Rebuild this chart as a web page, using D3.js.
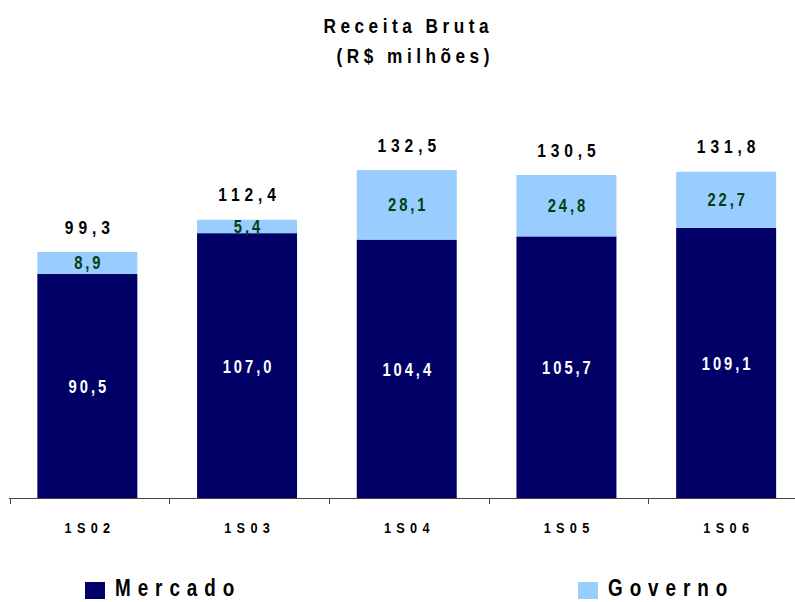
<!DOCTYPE html>
<html>
<head>
<meta charset="utf-8">
<script src="https://cdn.jsdelivr.net/npm/d3@7"></script>
<style>
body { margin: 0; background: #fff; }
text { font-family: "Liberation Sans", Arial, sans-serif; font-weight: bold; }
</style>
</head>
<body>
<div class="chart"></div>
<script>
var width = 795
var height = 602
var squeeze = 0.82 // condensed look

var periods = ['1S02', '1S03', '1S04', '1S05', '1S06']
var mercado = [90.5, 107.0, 104.4, 105.7, 109.1]
var governo = [8.9, 5.4, 28.1, 24.8, 22.7]
var totals = [99.3, 112.4, 132.5, 130.5, 131.8]

var fmt = function (v) { return v.toFixed(1).replace('.', ',') }

var svg = d3.select('.chart').append('svg')
    .attr('width', width)
    .attr('height', height)

var x = d3.scaleBand().domain(periods).range([7.5, 806]).paddingInner(0.374).paddingOuter(0.187)
var xTicks = d3.scaleBand().domain(periods).range([9.5, 808])
var y = d3.scaleLinear().domain([0, 200]).range([498, 3])

// condensed text helper
function label(sel, cx, cy, txt, size, ls, anchor, fill) {
    var shift = anchor === 'middle' ? ls * squeeze / 2 : 0
    sel.append('text')
        .attr('transform', 'translate(' + (cx + shift) + ',' + cy + ') scale(' + squeeze + ',1)')
        .attr('text-anchor', anchor)
        .attr('fill', fill || '#000')
        .style('font-size', size + 'px')
        .style('letter-spacing', ls + 'px')
        .text(txt)
}

// title
label(svg, 406, 33, 'Receita Bruta', 21, 5.5, 'middle')
label(svg, 413, 63, '(R$ milhões)', 21, 5.5, 'middle')

var rows = periods.map(function (p, i) {
    return { p: p, m: mercado[i], g: governo[i], t: totals[i] }
})

var g = svg.append('g')

g.selectAll('.merc').data(rows).enter().append('rect')
    .attr('x', function (d) { return x(d.p) })
    .attr('width', x.bandwidth())
    .attr('y', function (d) { return y(d.m) })
    .attr('height', function (d) { return y(0) - y(d.m) })
    .attr('fill', '#000066')

g.selectAll('.gov').data(rows).enter().append('rect')
    .attr('x', function (d) { return x(d.p) })
    .attr('width', x.bandwidth())
    .attr('y', function (d) { return y(d.m + d.g) })
    .attr('height', function (d) { return y(d.m) - y(d.m + d.g) })
    .attr('fill', '#99ccff')

rows.forEach(function (d) {
    var cx = x(d.p) + x.bandwidth() / 2
    label(g, cx, (y(0) + y(d.m)) / 2 + 7, fmt(d.m), 18, 3.6, 'middle', '#fff')
    label(g, cx, (y(d.m) + y(d.m + d.g)) / 2 + 6.5, fmt(d.g), 18, 3.6, 'middle', '#004010')
    label(g, cx, y(d.t) - 18.5, fmt(d.t), 19, 6, 'middle', '#000')
})

// axis
var axis = svg.append('g').attr('transform', 'translate(0,498)')
axis.append('line').attr('x1', 9).attr('x2', 795).attr('y1', 0.5).attr('y2', 0.5)
    .attr('stroke', '#444').attr('stroke-width', 1)
axis.selectAll('.tick').data(periods).enter().append('line')
    .attr('x1', function (d) { return Math.round(xTicks(d)) + 0.5 })
    .attr('x2', function (d) { return Math.round(xTicks(d)) + 0.5 })
    .attr('y1', 0).attr('y2', 6).attr('stroke', '#444')
periods.forEach(function (p) {
    label(axis, x(p) + x.bandwidth() / 2, 35, p, 15.5, 6.5, 'middle')
})

// legend
var legend = [
    { name: 'Mercado', color: '#000066', x: 85 },
    { name: 'Governo', color: '#99ccff', x: 578 }
]
legend.forEach(function (d) {
    svg.append('rect').attr('x', d.x).attr('y', 582).attr('width', 20).attr('height', 17)
        .attr('fill', d.color)
    label(svg, d.x + 30, 596, d.name, 23, 8.5, 'start')
})
</script>
</body>
</html>
